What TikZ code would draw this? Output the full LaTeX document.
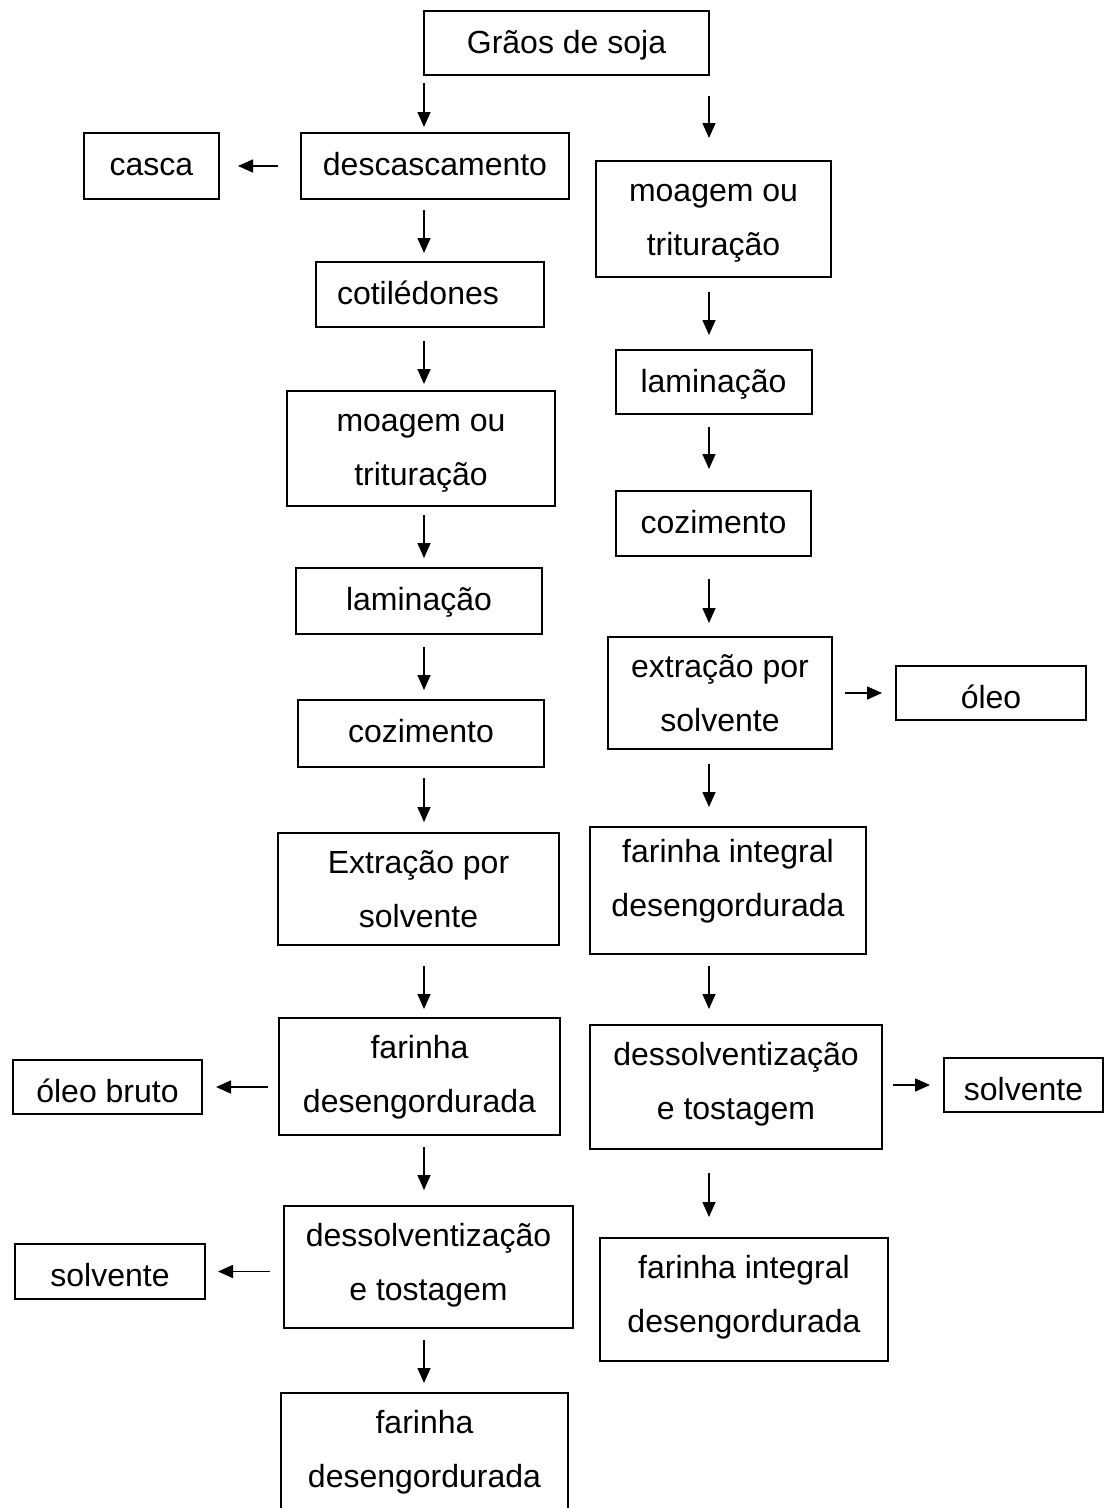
\documentclass[tikz,border=0pt]{standalone}
\usepackage{fontspec}
\setmainfont{Liberation Sans}
\usetikzlibrary{arrows.meta, positioning}

\begin{document}
\begin{tikzpicture}[
    x=1pt, y=-1pt,
    block/.style={rectangle, draw, line width=2pt, inner sep=0pt, outer sep=0pt, align=center, text height=42pt, font={\fontsize{32}{54}\selectfont}},
    tall/.style={text height=94pt},
    line/.style={draw, -{Triangle[length=15pt, width=13pt]}, line width=1.6pt},
    node distance=60pt
]
\useasboundingbox (0,0) rectangle (1105,1508);

% Nodes
\node [block, minimum width=285pt, text depth=22pt] (graos) at (566.5,43) {Grãos de soja};

% left branch
\node [block, minimum width=268pt, text depth=24pt, below=58pt of graos, xshift=-131.5pt] (descasc) {descascamento};
\node [block, minimum width=135pt, text depth=24pt, left=82pt of descasc] (casca) {casca};
\node [block, minimum width=228pt, text depth=23pt, text width=186pt, align=left, below=63pt of descasc, xshift=-5pt] (cotil) {cotilédones};
\node [block, tall, minimum width=268.5pt, text depth=21pt, below=64pt of cotil, xshift=-9pt] (moagemL) {moagem ou\\trituração};
\node [block, minimum width=246pt, text depth=24pt, below=62pt of moagemL, xshift=-2pt] (laminL) {laminação};
\node [block, minimum width=246pt, text depth=25pt, below=66pt of laminL, xshift=2pt] (cozL) {cozimento};
\node [block, tall, minimum width=281pt, text depth=18pt, below=66pt of cozL, xshift=-2.5pt] (extrL) {Extração por\\solvente};
\node [block, tall, minimum width=281pt, text depth=23pt, below=73pt of extrL, xshift=1pt] (farinhaL) {farinha\\desengordurada};
\node [block, minimum width=189pt, text depth=12pt, left=77pt of farinhaL, yshift=-10.5pt] (oleobruto) {óleo bruto};
\node [block, tall, minimum width=289pt, text depth=28pt, below=71pt of farinhaL, xshift=9pt] (dessolvL) {dessolventização\\e tostagem};
\node [block, minimum width=190pt, text depth=13pt, left=79pt of dessolvL, yshift=-4.5pt] (solvL) {solvente};
\node [block, tall, minimum width=287pt, text depth=26pt, below=65pt of dessolvL, xshift=-4pt] (farinhaB) {farinha\\desengordurada};

% right branch
\node [block, tall, minimum width=235pt, text depth=22pt, below=86pt of graos, xshift=147pt] (moagemR) {moagem ou\\trituração};
\node [block, minimum width=196pt, text depth=22pt, below=73pt of moagemR] (laminR) {laminação};
\node [block, minimum width=195pt, text depth=23pt, below=77pt of laminR] (cozR) {cozimento};
\node [block, tall, minimum width=224pt, text depth=18pt, below=81pt of cozR, xshift=6.5pt] (extrR) {extração por\\solvente};
\node [block, minimum width=190pt, text depth=12pt, right=64pt of extrR] (oleo) {óleo};
\node [block, tall, minimum width=276pt, text height=89pt, text depth=38pt, below=78pt of extrR, xshift=8pt] (integralR) {farinha integral\\desengordurada};
\node [block, tall, minimum width=292pt, text depth=30pt, below=71pt of integralR, xshift=8pt] (dessolvR) {dessolventização\\e tostagem};
\node [block, minimum width=159pt, text depth=12pt, right=62pt of dessolvR, yshift=2pt] (solvR) {solvente};
\node [block, tall, minimum width=288pt, text depth=29pt, below=89pt of dessolvR, xshift=8pt] (integralB) {farinha integral\\desengordurada};

\coordinate (lcol) at (424,0);
\coordinate (rcol) at (709,0);

% Edges
\path [line, shorten <=8pt, shorten >=6pt] (graos.south -| lcol) -- (descasc.north -| lcol);
\path [line, shorten <=11pt, shorten >=9pt] (descasc.south -| lcol) -- (cotil.north -| lcol);
\path [line, shorten <=14pt, shorten >=7pt] (cotil.south -| lcol) -- (moagemL.north -| lcol);
\path [line, shorten <=9pt, shorten >=10pt] (moagemL.south -| lcol) -- (laminL.north -| lcol);
\path [line, shorten <=13pt, shorten >=10pt] (laminL.south -| lcol) -- (cozL.north -| lcol);
\path [line, shorten <=11pt, shorten >=11pt] (cozL.south -| lcol) -- (extrL.north -| lcol);
\path [line, shorten <=21pt, shorten >=9pt] (extrL.south -| lcol) -- (farinhaL.north -| lcol);
\path [line, shorten <=12pt, shorten >=16pt] (farinhaL.south -| lcol) -- (dessolvL.north -| lcol);
\path [line, shorten <=12pt, shorten >=10pt] (dessolvL.south -| lcol) -- (farinhaB.north -| lcol);

\path [line, shorten <=23pt, shorten >=19pt] (descasc) -- (casca);
\path [line, shorten <=11pt, shorten >=14pt] (oleobruto.east -| farinhaL.west) -- (oleobruto.east);
\path [line, shorten <=14pt, shorten >=13pt] (solvL.east -| dessolvL.west) -- (solvL.east);

\path [line, shorten <=21pt, shorten >=23pt] (graos.south -| rcol) -- (moagemR.north -| rcol);
\path [line, shorten <=15pt, shorten >=15pt] (moagemR.south -| rcol) -- (laminR.north -| rcol);
\path [line, shorten <=13pt, shorten >=22pt] (laminR.south -| rcol) -- (cozR.north -| rcol);
\path [line, shorten <=23pt, shorten >=14pt] (cozR.south -| rcol) -- (extrR.north -| rcol);
\path [line, shorten <=15pt, shorten >=20pt] (extrR.south -| rcol) -- (integralR.north -| rcol);
\path [line, shorten <=12pt, shorten >=16pt] (integralR.south -| rcol) -- (dessolvR.north -| rcol);
\path [line, shorten <=24pt, shorten >=21pt] (dessolvR.south -| rcol) -- (integralB.north -| rcol);

\path [line, shorten <=13pt, shorten >=14pt] (extrR) -- (oleo);
\path [line, shorten <=11pt, shorten >=14pt] (solvR.west -| dessolvR.east) -- (solvR.west);
\end{tikzpicture}
\end{document}
